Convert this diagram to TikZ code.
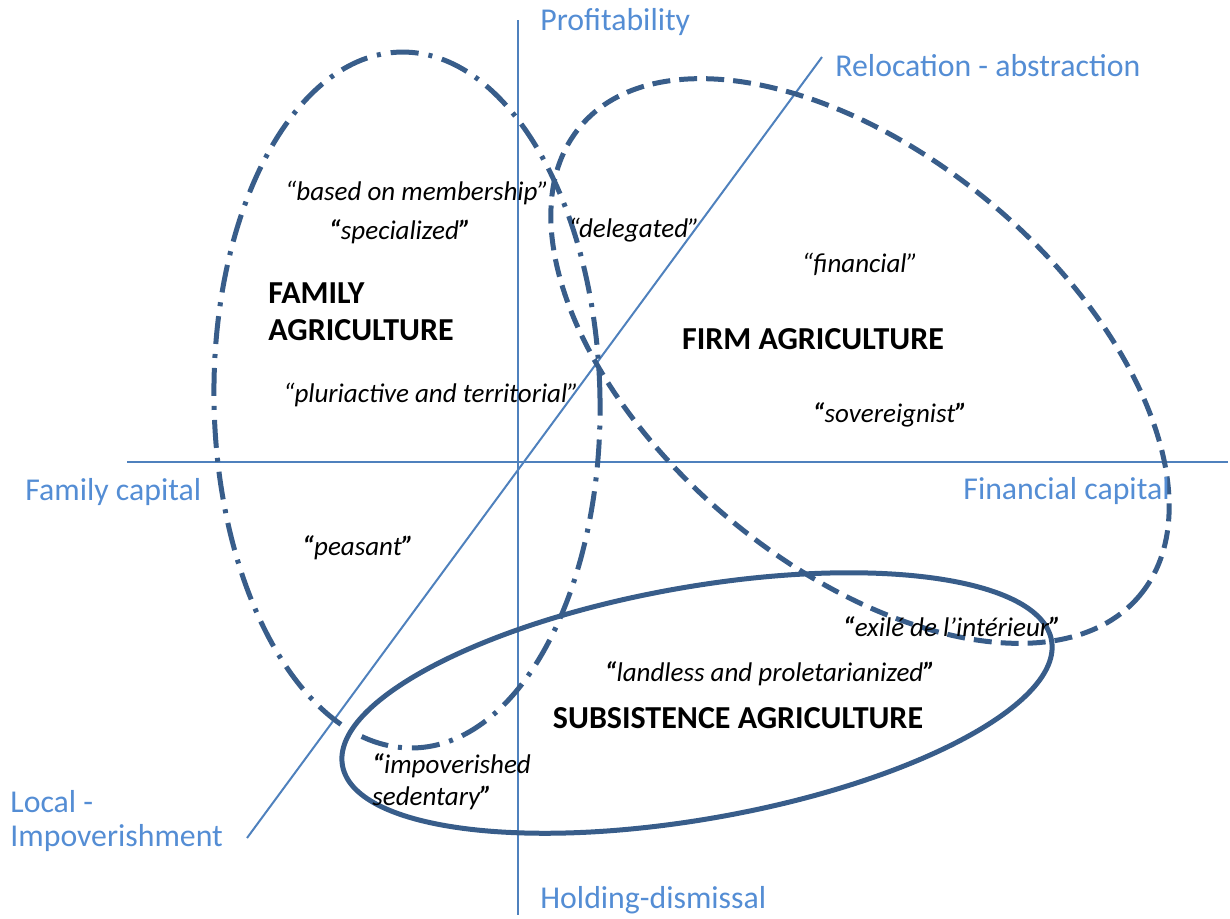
\documentclass[tikz,border=0pt]{standalone}
\usepackage{fontspec}
\setmainfont{Carlito}
\definecolor{axisblue}{RGB}{79,129,189}
\definecolor{labelblue}{RGB}{84,141,212}
\definecolor{ellblue}{RGB}{56,93,138}
\newcommand{\bq}[1]{\textbf{“}#1\textbf{”}}
\begin{document}
\begin{tikzpicture}[x=0.5pt,y=-0.5pt,
  axisline/.style={axisblue,line width=1pt},
  axislabel/.style={labelblue,font=\fontsize{15.9}{18}\selectfont,inner sep=0pt},
  quote/.style={black,font=\fontsize{13.5}{16}\selectfont\itshape,inner sep=0pt},
  title/.style={black,font=\fontsize{16}{18.5}\selectfont\bfseries,inner sep=0pt},
  ellline/.style={ellblue,line width=2.5pt}]
\useasboundingbox (0,0) rectangle (1230,918);
% axes
\coordinate (vtop) at (518,20);
\coordinate (vbot) at (518,915);
\coordinate (hl) at (127,462);
\coordinate (hr) at (1228,462);
\coordinate (dlo) at (247,838);
\coordinate (dhi) at (822,57);
\draw[axisline] (vtop) -- (vbot);
\draw[axisline] (hl) -- (hr);
\draw[axisline] (dlo) -- (dhi);
% ellipses
\draw[ellline,dash pattern=on 14pt off 5pt on 2pt off 5pt,rotate around={1:(407,400)}] (407,400) ellipse [x radius=96.5pt, y radius=174pt];
\draw[ellline,dash pattern=on 9pt off 4.5pt,rotate around={-40:(860,361)}] (860,361) ellipse [x radius=182.5pt, y radius=102.5pt];
\draw[ellline,rotate around={10:(697,703)}] (697,703) ellipse [x radius=180pt, y radius=58pt];
% axis labels
\node[axislabel,anchor=west] (prof) at (540,22) {Profitability};
\node[axislabel,anchor=west] (reloc) at (835,66) {Relocation - abstraction};
\node[axislabel,anchor=west] (famcap) at (25,492) {Family capital};
\node[axislabel,anchor=west] (fincap) at (963,491) {Financial capital};
\node[axislabel,anchor=west] (local1) at (10,802) {Local -};
\node[axislabel,anchor=west] (local2) at (10,838) {Impoverishment};
\node[axislabel,anchor=west] (hold) at (540,900) {Holding-dismissal};
% quotes
\node[quote] (memb) at (417,193) {“based on membership”};
\node[quote] (spec) at (400,232) {\bq{specialized}};
\node[quote] (deleg) at (634,230) {“delegated”};
\node[quote] (fin) at (860,264) {“financial”};
\node[quote] (plur) at (431,395) {“pluriactive and territorial”};
\node[quote] (sov) at (890,415) {\bq{sovereignist}};
\node[quote] (peas) at (358,548) {\bq{peasant}};
\node[quote] (exil) at (952,627) {\bq{exilé de l’intérieur}};
\node[quote] (land) at (770,674) {\bq{landless and proletarianized}};
\node[quote,anchor=west,align=left] (impov) at (372,782) {\textbf{“}impoverished\\sedentary\textbf{”}};
% titles
\node[title,anchor=west,align=left] (fam) at (268,312) {FAMILY\\AGRICULTURE};
\node[title] (firm) at (813,339) {FIRM AGRICULTURE};
\node[title] (subs) at (738,718) {SUBSISTENCE AGRICULTURE};
\end{tikzpicture}
\end{document}
